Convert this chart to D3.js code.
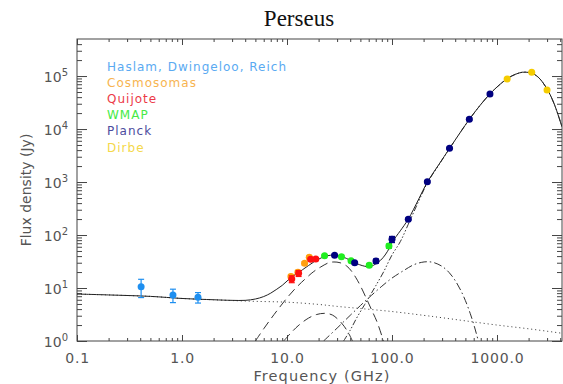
<!DOCTYPE html>
<html>
<head>
<meta charset="utf-8">
<script src="https://cdn.jsdelivr.net/npm/d3@7"></script>
<style>
  html, body { margin: 0; padding: 0; background: #fff; }
  svg { display: block; }
  text { font-family: "DejaVu Sans", sans-serif; }
</style>
</head>
<body>
<svg id="chart" width="563" height="384"></svg>
<script>
// ---------- DATA ----------
const title = "Perseus";
const xLabel = "Frequency (GHz)";
const yLabel = "Flux density (Jy)";

const xTickValues = [0.1, 1, 10, 100, 1000];
const xTickLabels = ["0.1", "1.0", "10.0", "100.0", "1000.0"];
const yTickValues = [1, 10, 100, 1000, 10000, 100000];
const yTickExponents = ["0", "1", "2", "3", "4", "5"];

const legendNames = ["Haslam, Dwingeloo, Reich", "Cosmosomas", "Quijote", "WMAP", "Planck", "Dirbe"];
const legendColors = ["#5aaaf2", "#f7b450", "#ec3a48", "#46ea46", "#4c4c9e", "#f4d84a"];
const markerColors = ["#1e8ff0", "#ffa010", "#ff1010", "#20ee20", "#000080", "#f5cc00"];

// measured points per survey: frequency (GHz), flux (Jy), error (Jy)
const haslamFreq = [0.408, 0.82, 1.42];
const haslamFlux = [10.6, 7.4, 6.7];
const haslamErr  = [4.0, 2.1, 1.5];

const cosmoFreq = [10.9, 12.7, 14.7, 16.3];
const cosmoFlux = [16.5, 19.8, 29.2, 38.0];
const cosmoErr  = [1.5, 1.8, 2.0, 2.5];

const quijoteFreq = [11.1, 12.9, 16.8, 18.8];
const quijoteFlux = [14.8, 18.9, 34.8, 35.3];
const quijoteErr  = [2.2, 2.4, 2.0, 2.0];

const wmapFreq = [22.8, 33.0, 40.7, 60.7, 93.5];
const wmapFlux = [40.7, 38.9, 32.7, 27.0, 62.0];
const wmapErr  = [1.5, 1.5, 1.5, 2.0, 6.0];

const planckFreq = [28.4, 44.1, 70.4, 100, 143, 217, 353, 545, 857];
const planckFlux = [41.5, 30.0, 32.3, 83, 198, 1013, 4320, 15240, 45700];
const planckErr  = [1.5, 1.5, 3.0, 11, 10, 40, 200, 800, 2500];

const dirbeFreq = [1249, 2141, 2997];
const dirbeFlux = [87700, 117500, 54400];
const dirbeErr  = [2000, 2500, 2000];

// model curves
const totalFreq = [0.1, 0.2, 0.5, 1, 2, 3, 4, 5, 6, 7, 8, 9, 10, 11, 12, 14, 16, 18, 20, 23, 26, 29, 33, 37, 41, 46, 52, 58, 63, 70, 78, 86, 95, 100, 110, 120, 143, 180, 217, 280, 353, 450, 545, 700, 857, 1000, 1249, 1500, 1750, 2000, 2141, 2500, 2997, 3500, 4160];
const totalFlux = [7.7, 7.4, 6.95, 6.35, 6.0, 5.85, 5.85, 6.2, 6.9, 8.0, 9.5, 11.2, 13.5, 16, 18, 22, 26.5, 31, 35, 39.5, 41.5, 41.5, 39.5, 36, 32.5, 29, 26.5, 25.3, 25.5, 28.5, 33.5, 42, 58, 72, 95, 120, 200, 480, 1000, 2150, 4300, 8800, 15200, 29000, 46000, 62000, 89000, 108000, 118000, 117000, 114000, 93000, 57000, 30000, 11000];

const freeFreq = [0.1, 0.2, 0.5, 1, 2, 3, 5, 10, 20, 30, 50, 100, 200, 300, 500, 1000, 2000, 4160];
const freeFlux = [7.7, 7.4, 6.95, 6.35, 6.0, 5.8, 5.6, 5.4, 4.9, 4.5, 4.1, 3.6, 3.05, 2.75, 2.4, 2.0, 1.7, 1.4];

const ame1Freq = [5, 6, 7, 8, 10, 12, 15, 18, 21, 25, 28, 32, 37, 41, 45, 50, 58, 65, 72, 83];
const ame1Flux = [1.0, 1.7, 2.6, 3.7, 6.5, 9.8, 15, 20.5, 25, 30, 31, 30, 26, 21, 16, 11, 5.9, 3.6, 2.3, 1.0];

const ame2Freq = [9.3, 11, 13, 16, 19, 23, 27, 31, 35, 39, 42];
const ame2Flux = [1.0, 1.45, 2.0, 2.7, 3.15, 3.33, 3.1, 2.5, 1.9, 1.35, 1.0];

const cmbFreq = [22.3, 30, 40, 50, 60, 80, 100, 130, 160, 190, 217, 250, 300, 350, 400, 450, 500, 557, 610, 668];
const cmbFlux = [1.0, 1.75, 3.05, 4.66, 6.52, 10.8, 15.4, 21.5, 27.3, 30.4, 31.3, 30.2, 25.6, 19.6, 13.8, 9.16, 5.79, 3.27, 1.85, 0.96];

const dustFreq = [34.6, 40, 46, 55, 62, 70, 83, 100, 120, 143, 180, 217, 280, 353, 450, 545, 700, 857, 1000, 1249, 1500, 1750, 2000, 2141, 2500, 2997, 3500, 4160];
const dustFlux = [1.0, 1.6, 2.7, 4.9, 7.3, 11, 20, 42, 75, 160, 440, 960, 2120, 4280, 8800, 15200, 29000, 46000, 62000, 89000, 108000, 118000, 117000, 114000, 93000, 57000, 30000, 11000];

// ---------- CHART ----------
const svg = d3.select("#chart");
const pLeft = 77, pRight = 562, pTop = 39, pBottom = 341;

const x = d3.scaleLog().domain([0.1, 4160]).range([pLeft, pRight]);
const y = d3.scaleLog().domain([1, 5e5]).range([pBottom, pTop]);

const axisColor = "#444";
const labelColor = "#555";

svg.append("text")
  .attr("x", 299).attr("y", 25.5)
  .attr("text-anchor", "middle")
  .style("font-family", "'Liberation Serif', serif")
  .attr("font-size", 23)
  .attr("fill", "#111")
  .text(title);

// minor tick values
function minors(lo, hi) {
  const out = [];
  for (let e = Math.floor(Math.log10(lo)); e <= Math.ceil(Math.log10(hi)); e++) {
    for (let m = 2; m <= 9; m++) {
      const v = m * Math.pow(10, e);
      if (v > lo * 1.0001 && v < hi * 0.9999) out.push(v);
    }
  }
  return out;
}
const xMinor = minors(0.1, 4160);
const yMinor = minors(1, 5e5);

function styleAxis(g) {
  g.select(".domain").remove();
  g.selectAll(".tick line").attr("stroke", axisColor).attr("stroke-width", 1);
}

// bottom axis
svg.append("g").attr("transform", `translate(0,${pBottom})`)
  .call(d3.axisBottom(x).tickValues(xMinor).tickSize(-3).tickFormat(""))
  .call(styleAxis);
svg.append("g").attr("transform", `translate(0,${pBottom})`)
  .call(d3.axisBottom(x).tickValues(xTickValues).tickSize(-6)
    .tickFormat((d, i) => xTickLabels[i]))
  .call(styleAxis)
  .call(g => g.selectAll(".tick text")
    .attr("font-size", 14).attr("fill", labelColor)
    .attr("font-family", "DejaVu Sans")
    .style("letter-spacing", "0.8px")
    .attr("y", 22).attr("dy", 0));

// top axis
svg.append("g").attr("transform", `translate(0,${pTop})`)
  .call(d3.axisTop(x).tickValues(xMinor).tickSize(-3).tickFormat(""))
  .call(styleAxis);
svg.append("g").attr("transform", `translate(0,${pTop})`)
  .call(d3.axisTop(x).tickValues(xTickValues).tickSize(-6).tickFormat(""))
  .call(styleAxis);

// left axis
svg.append("g").attr("transform", `translate(${pLeft},0)`)
  .call(d3.axisLeft(y).tickValues(yMinor).tickSize(-5).tickFormat(""))
  .call(styleAxis);
svg.append("g").attr("transform", `translate(${pLeft},0)`)
  .call(d3.axisLeft(y).tickValues(yTickValues).tickSize(-10).tickFormat(""))
  .call(styleAxis)
  .call(g => g.selectAll(".tick").append("text")
    .attr("x", -9).attr("y", 5)
    .attr("text-anchor", "end")
    .attr("fill", labelColor)
    .attr("font-size", 14)
    .each(function(d, i) {
      const t = d3.select(this);
      t.append("tspan").text("10");
      t.append("tspan").attr("dy", -6).attr("font-size", 10).text(yTickExponents[i]);
    }));

// right axis
svg.append("g").attr("transform", `translate(${pRight},0)`)
  .call(d3.axisRight(y).tickValues(yMinor).tickSize(-5).tickFormat(""))
  .call(styleAxis);
svg.append("g").attr("transform", `translate(${pRight},0)`)
  .call(d3.axisRight(y).tickValues(yTickValues).tickSize(-10).tickFormat(""))
  .call(styleAxis);

// frame
svg.append("rect")
  .attr("x", pLeft).attr("y", pTop)
  .attr("width", pRight - pLeft).attr("height", pBottom - pTop)
  .attr("fill", "none").attr("stroke", axisColor).attr("stroke-width", 1);

// axis titles
svg.append("text")
  .attr("x", 322).attr("y", 381)
  .attr("text-anchor", "middle")
  .attr("font-size", 14.5)
  .attr("fill", labelColor)
  .style("letter-spacing", "1.1px")
  .text(xLabel);
svg.append("text")
  .attr("transform", "translate(31,190) rotate(-90)")
  .attr("text-anchor", "middle")
  .attr("font-size", 14)
  .attr("fill", labelColor)
  .text(yLabel);

// legend
legendNames.forEach((name, i) => {
  svg.append("text")
    .attr("x", 107).attr("y", 70.5 + i * 16.2)
    .attr("font-size", 12)
    .attr("fill", legendColors[i])
    .style("letter-spacing", "1px")
    .text(name);
});

// model curves
svg.append("clipPath").attr("id", "plotclip")
  .append("rect").attr("x", pLeft).attr("y", pTop)
  .attr("width", pRight - pLeft).attr("height", pBottom - pTop);
const plot = svg.append("g").attr("clip-path", "url(#plotclip)");

const line = d3.line().x(d => x(d[0])).y(d => y(d[1])).curve(d3.curveCatmullRom.alpha(0.5));
function curve(fr, fl, dash, color, w) {
  plot.append("path")
    .datum(fr.map((f, i) => [f, fl[i]]))
    .attr("d", line)
    .attr("fill", "none")
    .attr("stroke", color)
    .attr("stroke-width", w)
    .attr("stroke-dasharray", dash);
}
curve(freeFreq, freeFlux, "1,3", "#333", 1);
curve(ame1Freq, ame1Flux, "9,5", "#333", 1);
curve(ame2Freq, ame2Flux, "9,5", "#333", 1);
curve(cmbFreq, cmbFlux, "8,3,1.5,3", "#333", 1);
curve(dustFreq, dustFlux, "6,2,1.5,2,1.5,2,1.5,2", "#333", 1);
curve(totalFreq, totalFlux, null, "#222", 1);

// data points
const sets = [
  [haslamFreq, haslamFlux, haslamErr],
  [cosmoFreq, cosmoFlux, cosmoErr],
  [quijoteFreq, quijoteFlux, quijoteErr],
  [wmapFreq, wmapFlux, wmapErr],
  [planckFreq, planckFlux, planckErr],
  [dirbeFreq, dirbeFlux, dirbeErr]
];
sets.forEach(([fr, fl, er], k) => {
  const g = svg.append("g");
  const color = markerColors[k];
  const pts = fr.map((f, i) => ({ f, v: fl[i], e: er[i] }));
  const eg = g.selectAll(".err").data(pts).enter().append("g");
  eg.append("line")
    .attr("x1", d => x(d.f)).attr("x2", d => x(d.f))
    .attr("y1", d => y(d.v + d.e)).attr("y2", d => y(Math.max(d.v - d.e, 1e-3)))
    .attr("stroke", color).attr("stroke-width", 1.2);
  [1, -1].forEach(s => {
    eg.append("line")
      .attr("x1", d => x(d.f) - 3).attr("x2", d => x(d.f) + 3)
      .attr("y1", d => y(s > 0 ? d.v + d.e : d.v - d.e))
      .attr("y2", d => y(s > 0 ? d.v + d.e : d.v - d.e))
      .attr("stroke", color).attr("stroke-width", 1.2);
  });
  g.selectAll("circle").data(pts).enter().append("circle")
    .attr("cx", d => x(d.f)).attr("cy", d => y(d.v))
    .attr("r", 3.5).attr("fill", color);
});
</script>
</body>
</html>
